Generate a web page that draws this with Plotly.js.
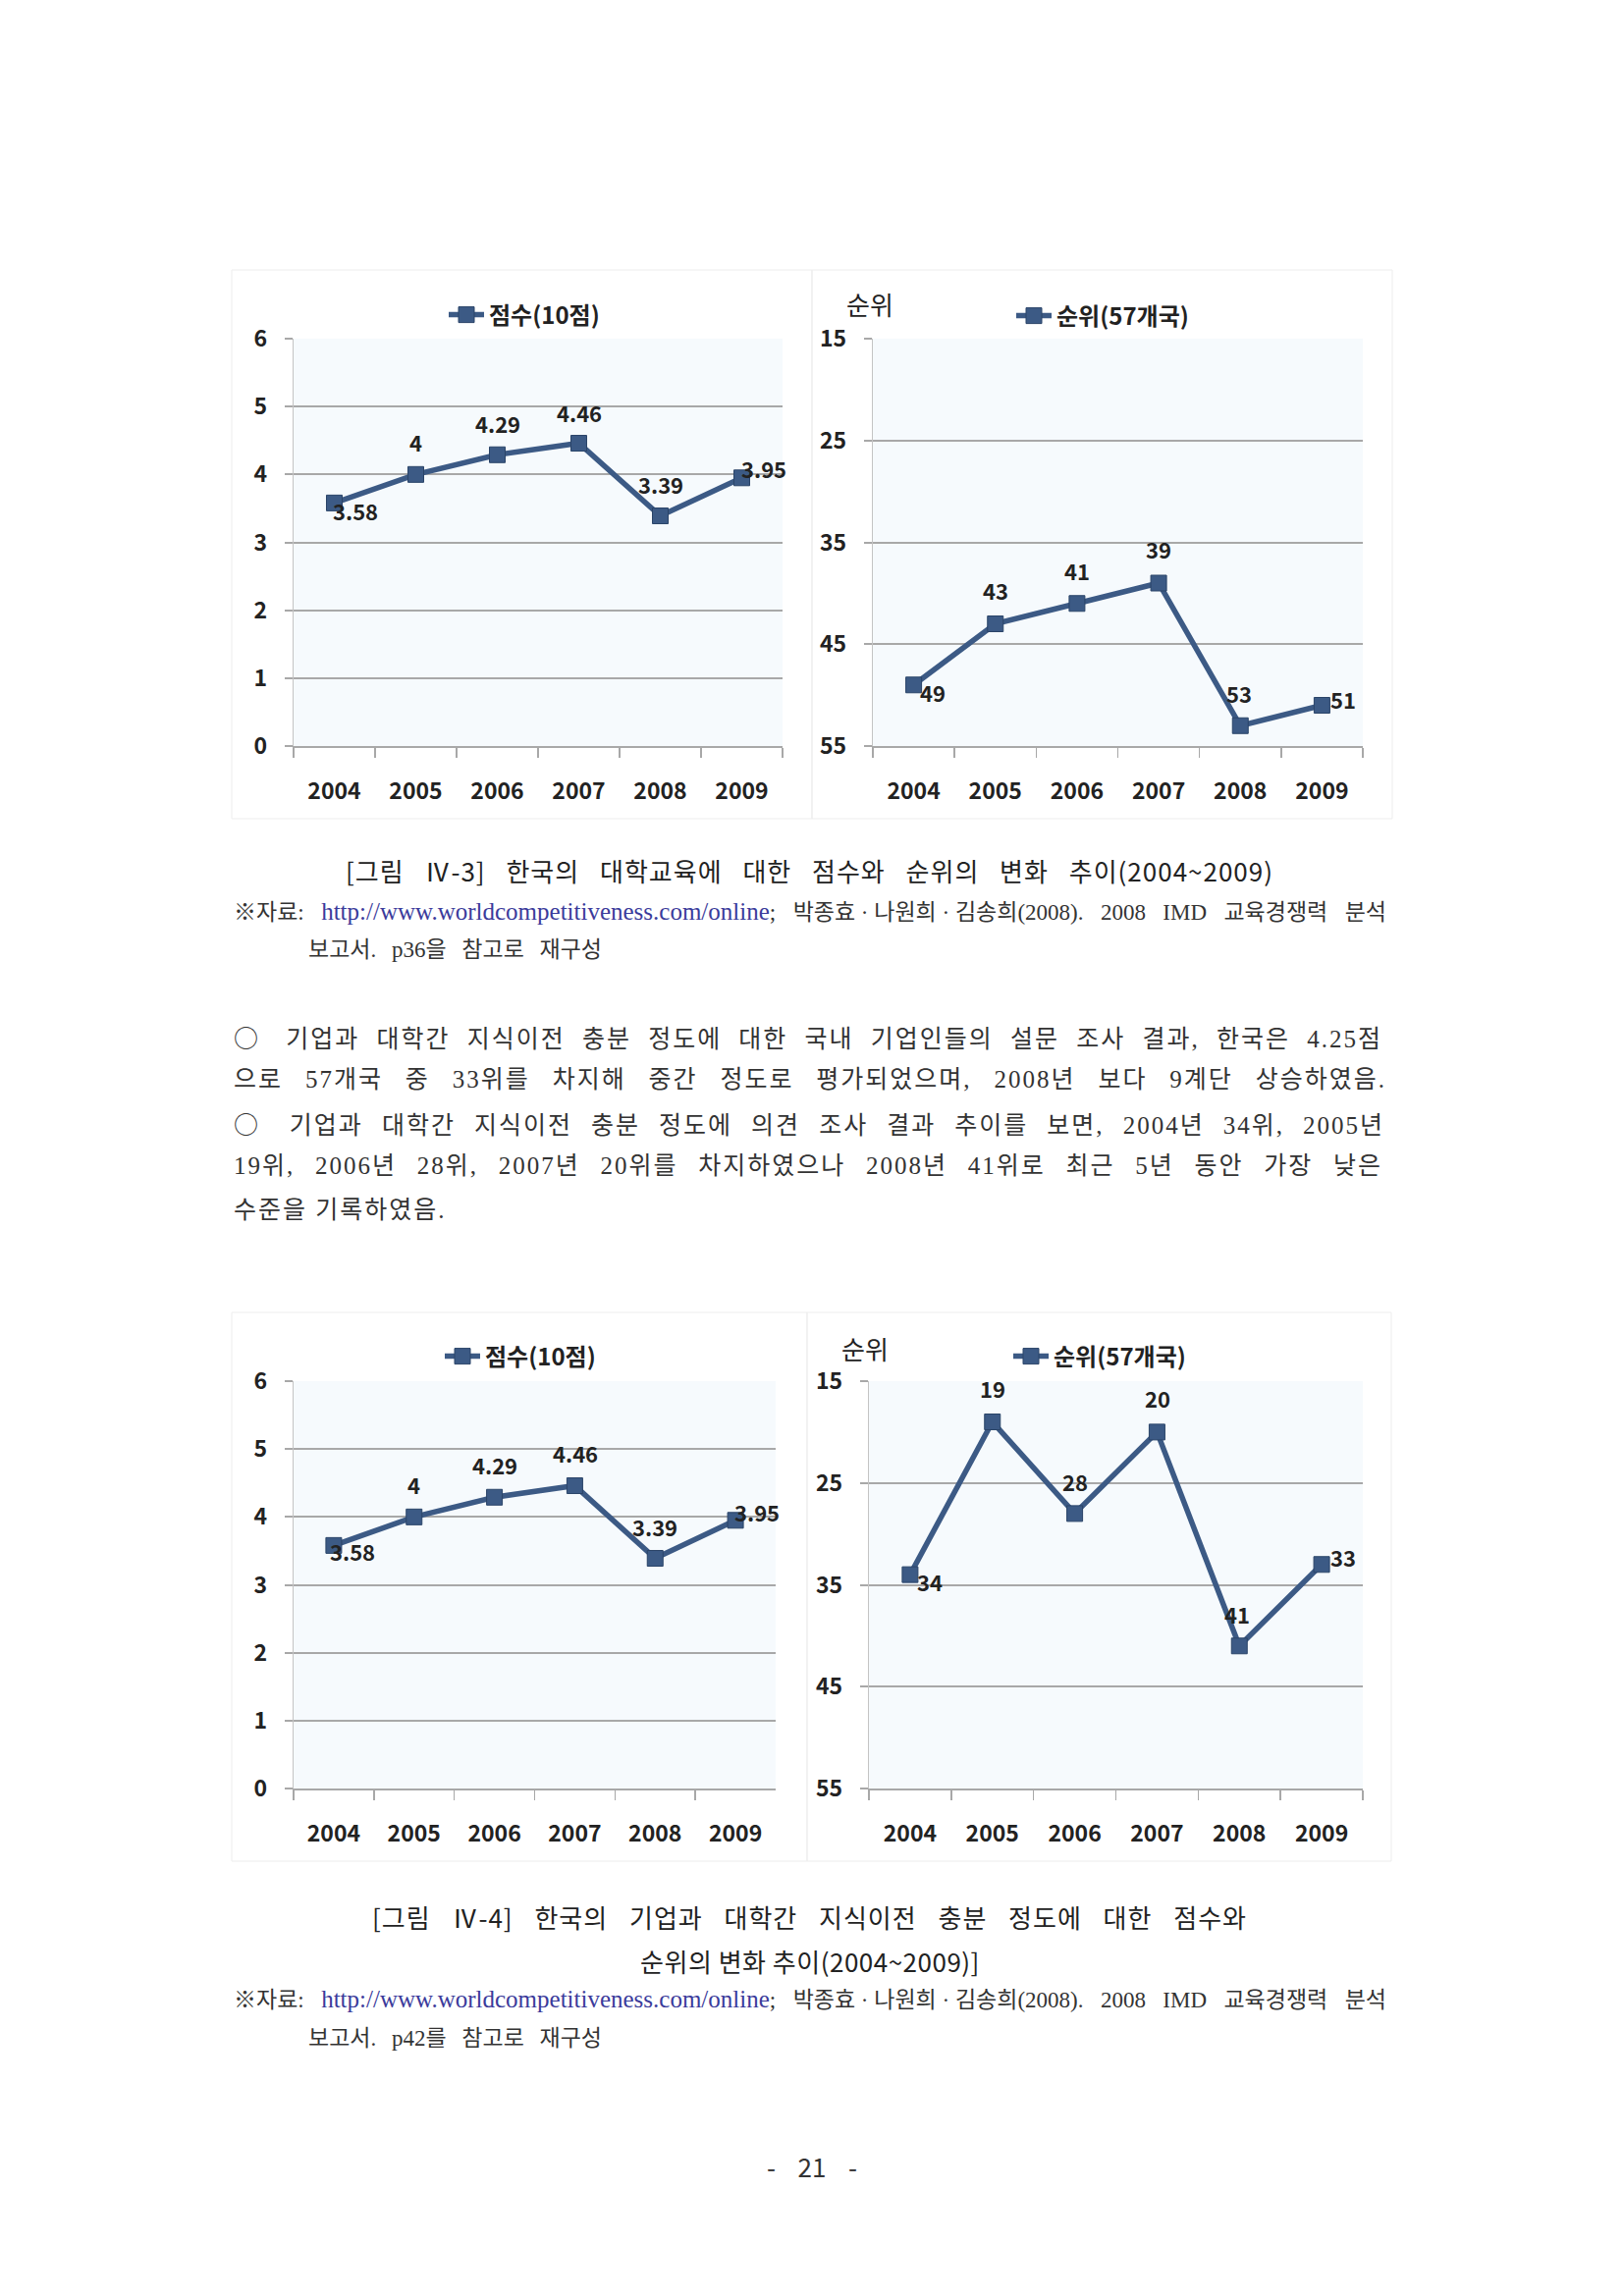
<!DOCTYPE html>
<html><head><meta charset="utf-8">
<script src="https://cdn.plot.ly/plotly-3.0.1.min.js"></script>
<style>
html,body{margin:0;padding:0;background:#fff;}
#page{position:relative;width:1653px;height:2339px;overflow:hidden;background:#fff;}
#chart{position:absolute;left:0;top:0;width:1653px;height:2339px;}
.t{position:absolute;white-space:nowrap;height:40px;line-height:40px;}
.j{text-align:justify;text-align-last:justify;white-space:normal;overflow:hidden;}
.cap{font-family:'Noto Sans CJK KR','Noto Sans',sans-serif;font-size:26px;color:#222;letter-spacing:1px;}
.src{font-family:'Liberation Serif','Noto Sans CJK KR',serif;font-size:23px;color:#333;}
.par{font-family:'Liberation Serif','Noto Sans CJK KR',serif;font-size:25px;color:#333;letter-spacing:2px;}
.url{color:#3b3b9b;font-size:25px;}
.ib{display:inline-block;}
.cj{font-family:'Noto Sans CJK KR',sans-serif;}
</style></head>
<body>
<div id="page">
<div id="chart"></div>

<div class="t cap j" style="left:352px;width:945px;top:867px;">[그림 <span class="ib">Ⅳ-3]</span> 한국의 대학교육에 대한 점수와 순위의 변화 추이(2004~2009)</div>
<div class="t src j" style="left:238px;width:1174px;top:909px;"><span class="ib">※자료:</span> <span class="url">http://www.worldcompetitiveness.com/online</span>; <span class="ib">박종효 · 나원희 · 김송희(2008).</span> 2008 IMD 교육경쟁력 분석</div>
<div class="t src j" style="left:314px;width:299px;top:948px;">보고서. p36을 참고로 재구성</div>

<div class="t par j" style="left:238px;width:1170px;top:1036px;"><span class="cj">○</span> 기업과 대학간 지식이전 충분 정도에 대한 국내 기업인들의 설문 조사 결과, 한국은 4.25점</div>
<div class="t par j" style="left:238px;width:1174px;top:1080px;">으로 57개국 중 33위를 차지해 중간 정도로 평가되었으며, 2008년 보다 9계단 상승하였음.</div>
<div class="t par j" style="left:238px;width:1172px;top:1124px;"><span class="cj">○</span> 기업과 대학간 지식이전 충분 정도에 의견 조사 결과 추이를 보면, 2004년 34위, 2005년</div>
<div class="t par j" style="left:238px;width:1170px;top:1168px;">19위, 2006년 28위, 2007년 20위를 차지하였으나 2008년 41위로 최근 5년 동안 가장 낮은</div>
<div class="t par" style="left:238px;top:1213px;">수준을 기록하였음.</div>

<div class="t cap j" style="left:379px;width:891px;top:1933px;">[그림 <span class="ib">Ⅳ-4]</span> 한국의 기업과 대학간 지식이전 충분 정도에 대한 점수와</div>
<div class="t cap" style="left:0;width:1650px;text-align:center;top:1978px;letter-spacing:0.5px;">순위의 변화 추이(2004~2009)]</div>
<div class="t src j" style="left:238px;width:1174px;top:2017px;"><span class="ib">※자료:</span> <span class="url">http://www.worldcompetitiveness.com/online</span>; <span class="ib">박종효 · 나원희 · 김송희(2008).</span> 2008 IMD 교육경쟁력 분석</div>
<div class="t src j" style="left:314px;width:299px;top:2057px;">보고서. p42를 참고로 재구성</div>

<div class="t cap j" style="left:781px;width:92px;top:2187px;color:#333;letter-spacing:0;">- 21 -</div>
</div>

<script>
// ---- data ----
const years = ['2004', '2005', '2006', '2007', '2008', '2009'];
const scoreHigherEd = [3.58, 4, 4.29, 4.46, 3.39, 3.95];
const rankHigherEd = [49, 43, 41, 39, 53, 51];
const scoreTransfer = [3.58, 4, 4.29, 4.46, 3.39, 3.95];
const rankTransfer = [34, 19, 28, 20, 41, 33];
const scoreTicks = [0, 1, 2, 3, 4, 5, 6];
const rankTicks = [15, 25, 35, 45, 55];
const scoreName = '점수(10점)';
const rankName = '순위(57개국)';
const rankAxisTitle = '순위';

// ---- styling / layout helpers ----
const W = 1653, H = 2339;
const px = x => x / W;
const py = y => 1 - y / H;
const FONT = "'Noto Sans CJK KR', 'Noto Sans', sans-serif";
const LINE = '#3c5a85';
const TXT = '#222222';
const GRID = '#a8a8a8';

// label offsets (pixels, up-positive)
const offs = {
  1: {dx: [21, 0, 0, 0, 0, 22], dy: [-8, 33, 32, 32, 33, 10]},
  2: {dx: [19, 0, 0, 0, -1, 22], dy: [-7, 35, 34, 35, 33, 7]},
  3: {dx: [19, 0, 0, 1, 0, 22], dy: [-6, 33, 33, 34, 33, 9]},
  4: {dx: [20, 0, 0, 1, -2, 22], dy: [-7, 35, 33, 35, 33, 8]}
};

function sfx(n) { return n > 1 ? String(n) : ''; }

function trace(vals, name, n) {
  return {
    x: years, y: vals, name: name, type: 'scatter', mode: 'lines+markers',
    xaxis: 'x' + sfx(n), yaxis: 'y' + sfx(n), legend: 'legend' + sfx(n),
    line: {color: LINE, width: 5.5},
    marker: {symbol: 'square', size: 16, color: LINE, line: {color: '#2a4468', width: 1}},
    cliponaxis: false, hoverinfo: 'skip', showlegend: true
  };
}

function xAxis(x0, x1, n) {
  return {
    domain: [px(x0), px(x1)], anchor: 'y' + sfx(n), type: 'category',
    categoryorder: 'array', categoryarray: years,
    range: [-0.5, 5.5], tickson: 'boundaries', ticks: 'outside', ticklen: 10,
    tickwidth: 1.5, tickcolor: GRID, showgrid: false, showline: true,
    linecolor: GRID, linewidth: 2, zeroline: false,
    tickfont: {family: FONT, size: 23, color: TXT, weight: 'bold'},
    ticklabelstandoff: 24, fixedrange: true
  };
}

function yAxis(y0, y1, n, range, ticks) {
  return {
    domain: [py(y1), py(y0)], anchor: 'x' + sfx(n), range: range,
    tickmode: 'array', tickvals: ticks, ticks: 'outside', ticklen: 8,
    tickwidth: 2, tickcolor: GRID, showgrid: true, gridcolor: GRID, gridwidth: 2,
    showline: true, linecolor: '#c4c4c4', linewidth: 1.2, zeroline: false,
    tickfont: {family: FONT, size: 23, color: TXT, weight: 'bold'},
    ticklabelstandoff: 13, fixedrange: true
  };
}

function legend(x, y) {
  return {
    x: px(x), y: py(y), xanchor: 'left', yanchor: 'middle',
    bgcolor: 'rgba(0,0,0,0)', borderwidth: 0, itemwidth: 36,
    font: {family: FONT, size: 24, color: TXT, weight: 'bold'},
    itemclick: false, itemdoubleclick: false
  };
}

function labels(vals, n) {
  const o = offs[n];
  return vals.map((v, i) => ({
    x: i, y: v, xref: 'x' + sfx(n), yref: 'y' + sfx(n),
    text: String(v), showarrow: false, xshift: o.dx[i], yshift: o.dy[i],
    xanchor: 'center', yanchor: 'middle',
    font: {family: FONT, size: 22, color: TXT, weight: 'bold'}
  }));
}

function box(x0, y0, x1, y1) {
  return {type: 'rect', xref: 'paper', yref: 'paper', x0: px(x0), x1: px(x1),
    y0: py(y1), y1: py(y0), line: {color: '#ededed', width: 1}, fillcolor: 'rgba(0,0,0,0)', layer: 'below'};
}

const data = [
  trace(scoreHigherEd, scoreName, 1),
  trace(rankHigherEd, rankName, 2),
  trace(scoreTransfer, scoreName, 3),
  trace(rankTransfer, rankName, 4)
];

const annotations = [].concat(
  labels(scoreHigherEd, 1), labels(rankHigherEd, 2),
  labels(scoreTransfer, 3), labels(rankTransfer, 4),
  [
    {text: rankAxisTitle, xref: 'paper', yref: 'paper', x: px(886), y: py(310), showarrow: false,
     xanchor: 'center', yanchor: 'middle', font: {family: FONT, size: 26, color: TXT}},
    {text: rankAxisTitle, xref: 'paper', yref: 'paper', x: px(881), y: py(1373), showarrow: false,
     xanchor: 'center', yanchor: 'middle', font: {family: FONT, size: 26, color: TXT}}
  ]
);

const layout = {
  width: W, height: H, margin: {l: 0, r: 0, t: 0, b: 0},
  paper_bgcolor: 'rgba(255,255,255,0)', plot_bgcolor: '#f6fafd',
  font: {family: FONT, color: TXT},
  xaxis: xAxis(299, 797, 1), yaxis: yAxis(345, 760, 1, [0, 6], scoreTicks),
  xaxis2: xAxis(889, 1388, 2), yaxis2: yAxis(345, 760, 2, [55, 15], rankTicks),
  xaxis3: xAxis(299, 790, 3), yaxis3: yAxis(1407, 1822, 3, [0, 6], scoreTicks),
  xaxis4: xAxis(885, 1388, 4), yaxis4: yAxis(1407, 1822, 4, [55, 15], rankTicks),
  legend: legend(452, 321), legend2: legend(1030, 322),
  legend3: legend(448, 1382), legend4: legend(1027, 1382),
  shapes: [box(236, 275, 827, 834), box(827, 275, 1418, 834),
           box(236, 1337, 822, 1896), box(822, 1337, 1417, 1896)],
  annotations: annotations,
  showlegend: true
};

Plotly.newPlot('chart', data, layout, {displayModeBar: false, staticPlot: true});
</script>
</body></html>
